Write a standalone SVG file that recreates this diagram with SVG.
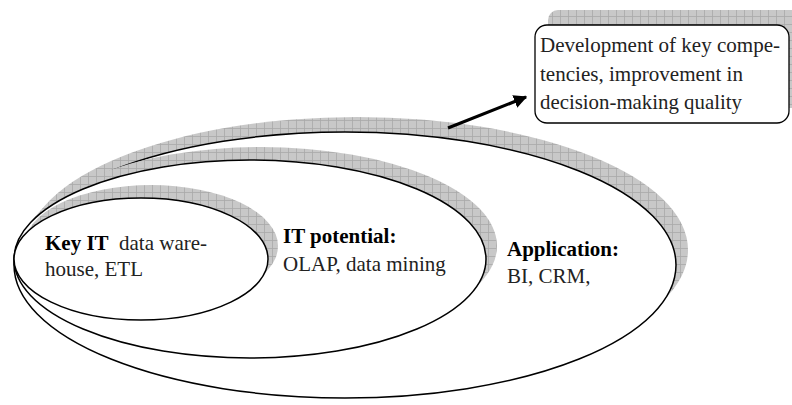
<svg xmlns="http://www.w3.org/2000/svg" width="792" height="405" viewBox="0 0 792 405">
<defs>
<pattern id="grid" width="8" height="8" patternUnits="userSpaceOnUse">
<rect width="8" height="8" fill="#c8c8c8"/>
<path d="M0 0.5H8M0.5 0V8" stroke="#a8a8a8" stroke-width="0.8" fill="none"/>
</pattern>
<marker id="ah" viewBox="0 0 10 10" refX="9" refY="5" markerWidth="4.2" markerHeight="4.2" orient="auto" markerUnits="strokeWidth">
<path d="M0 0L10 5L0 10z" fill="#000"/>
</marker>
</defs>
<style>
.sh{fill:url(#grid);stroke:none}
.el{fill:#fff;stroke:#000;stroke-width:1.5}
.t{font-family:"Liberation Serif","Times New Roman",serif;font-size:21px;fill:#222}
.bx{font-size:21.5px}
.b{font-weight:bold;fill:#000}
</style>
<rect width="792" height="405" fill="#fff"/>
<g id="application">
<ellipse class="sh" cx="357" cy="250" rx="331" ry="133"/>
<ellipse class="el" cx="345" cy="265" rx="331" ry="133"/>
<text class="t" x="507" y="256"><tspan class="b">Application:</tspan></text>
<text class="t" x="507" y="283">BI, CRM,</text>
</g>
<g id="it-potential">
<ellipse class="sh" cx="261" cy="246" rx="236" ry="99"/>
<ellipse class="el" cx="250" cy="259" rx="236" ry="99"/>
<text class="t" x="283" y="243"><tspan class="b">IT potential:</tspan></text>
<text class="t" x="283" y="271">OLAP, data mining</text>
</g>
<g id="key-it">
<ellipse class="sh" cx="151" cy="246" rx="127" ry="61"/>
<ellipse class="el" cx="141" cy="259" rx="127" ry="61"/>
<text class="t" x="45" y="250"><tspan class="b">Key IT</tspan><tspan x="119">data ware-</tspan></text>
<text class="t" x="45" y="276">house, ETL</text>
</g>
<g id="outcome">
<rect class="sh" x="548" y="10" width="260" height="98" rx="10"/>
<rect x="535" y="25" width="254" height="98" rx="12" fill="#fff" stroke="#000" stroke-width="1.3"/>
<text class="t bx" x="540" y="52" textLength="240" lengthAdjust="spacingAndGlyphs">Development of key compe-</text>
<text class="t bx" x="540" y="81" textLength="203" lengthAdjust="spacingAndGlyphs">tencies, improvement in</text>
<text class="t bx" x="540" y="109" textLength="202" lengthAdjust="spacingAndGlyphs">decision-making quality</text>
</g>
<g id="connectors">
<line x1="448" y1="128" x2="526" y2="97" stroke="#000" stroke-width="3.2" marker-end="url(#ah)"/>
</g>
</svg>
